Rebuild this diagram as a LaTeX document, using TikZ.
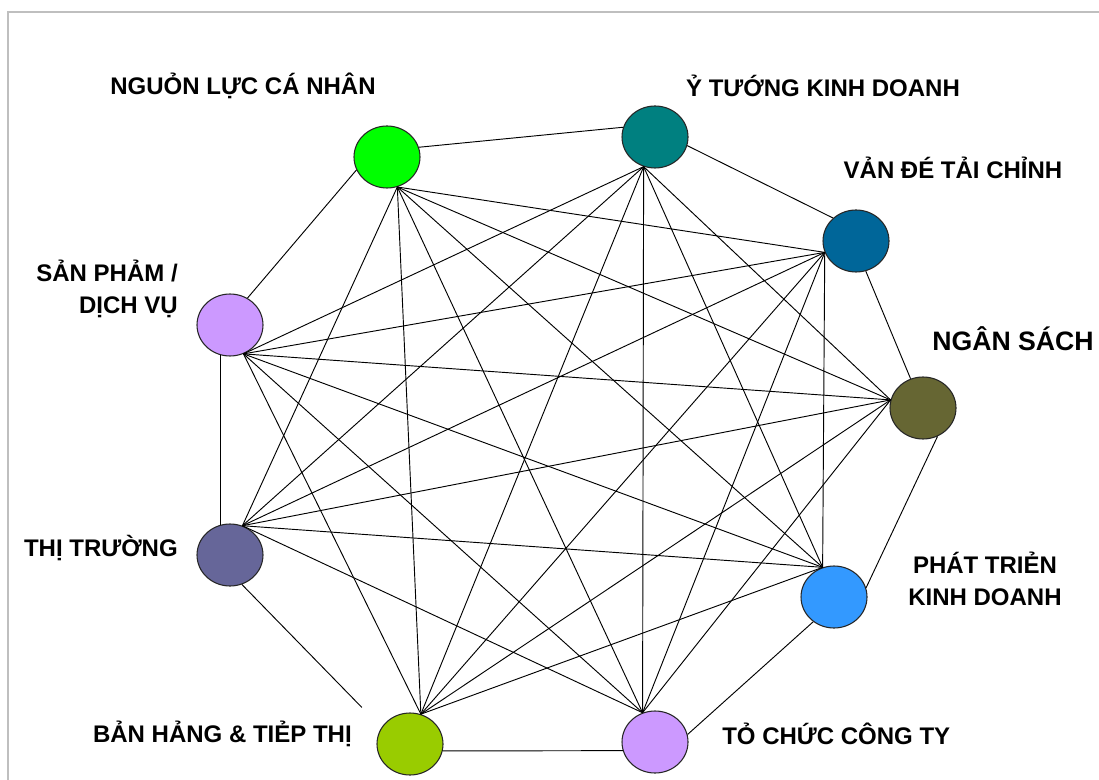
\documentclass[tikz,border=0pt]{standalone}
\usepackage{fontspec}
\usepackage{tikz}
\usetikzlibrary{shapes.geometric}
\setmainfont{Liberation Sans}

\definecolor{cNL}{HTML}{00FF00}
\definecolor{cYT}{HTML}{008080}
\definecolor{cVD}{HTML}{006699}
\definecolor{cNS}{HTML}{666633}
\definecolor{cPT}{HTML}{3399FF}
\definecolor{cTC}{HTML}{CC99FF}
\definecolor{cBH}{HTML}{99CC00}
\definecolor{cTT}{HTML}{666699}

\tikzset{
	ball/.style={ellipse, draw=black!85, line width=0.8pt, minimum width=49.5pt, minimum height=46.5pt, inner sep=0pt},
	lbl/.style={font=\bfseries\fontsize{18}{21}\selectfont, inner sep=0pt},
	link/.style={line width=0.7pt, black}
}

\begin{document}
\begin{tikzpicture}[x=0.75pt,y=-0.75pt]
			\useasboundingbox (0,0) rectangle (1099,780);
			\draw[black!25, line width=1pt] (1099,12) -- (8,12) -- (8,780);

			% the nine circles
			\node[ball, fill=cNL] (NL) at (387,157) {};
			\node[ball, fill=cYT] (YT) at (655,137) {};
			\node[ball, fill=cVD] (VD) at (856,241) {};
			\node[ball, fill=cNS] (NS) at (923,408) {};
			\node[ball, fill=cPT] (PT) at (834,597) {};
			\node[ball, fill=cTC] (TC) at (655,742) {};
			\node[ball, fill=cBH] (BH) at (410,744) {};
			\node[ball, fill=cTT] (TT) at (230,555) {};
			\node[ball, fill=cTC] (SP) at (230,325) {};

			% labels
			\node[lbl] (NLl) at (243,86) {NGUỎN LỰC CÁ NHÂN};
			\node[lbl] (YTl) at (823,86) {Ỷ TƯỚNG KINH DOANH};
			\node[lbl] (VDl) at (953,168) {VẢN ĐÉ TẢI CHỈNH};
			\node[lbl, font=\bfseries\fontsize{20}{24}\selectfont] (NSl) at (1013,339) {NGÂN SÁCH};
			\node[lbl, anchor=east, align=right] (SPl) at (178,289) {SẢN PHẢM /\\[3pt]DỊCH VỤ};
			\node[lbl, anchor=east] (TTl) at (178,548) {THỊ TRƯỜNG};
			\node[lbl, align=center] (PTl) at (985,579) {PHÁT TRIẺN\\[3pt]KINH DOANH};
			\node[lbl, anchor=east] (BHl) at (352,734) {BẢN HẢNG \& TIẺP THỊ};
			\node[lbl, anchor=west] (TCl) at (722,734) {TỎ CHỨC CÔNG TY};

			% meeting points of the inner lines
			\coordinate (NLh) at (NL.-71);
			\coordinate (YTh) at (YT.-111);
			\coordinate (VDh) at (VD.200);
			\coordinate (NSh) at (NS.166);
			\coordinate (PTh) at (PT.111);
			\coordinate (TCh) at (TC.113);
			\coordinate (BHh) at (BH.70);
			\coordinate (TTh) at (TT.67);
			\coordinate (SPh) at (SP.-65);

			\foreach \a/\b in {NLh/VDh,NLh/NSh,NLh/PTh,NLh/TCh,NLh/BHh,NLh/TTh,
				YTh/NSh,YTh/PTh,YTh/TCh,YTh/BHh,YTh/TTh,YTh/SPh,
				VDh/PTh,VDh/TCh,VDh/BHh,VDh/TTh,VDh/SPh,
				NSh/TCh,NSh/BHh,NSh/TTh,NSh/SPh,
				PTh/BHh,PTh/TTh,PTh/SPh,
				TCh/TTh,TCh/SPh,
				BHh/SPh}
			{
				\draw[link] (\a) -- (\b);
			}

			% outer ring
			\draw[link] (NL.17) -- (YT.163);
			\draw[link] (YT.-15) -- (VD.135);
			\draw[link] (VD.-72) -- (NS.113);
			\draw[link] (NS.-63) -- (PT.16);
			\draw[link] (PT.-130) -- (TC.13);
			\draw[link] (TC.-165) -- (BH.-12);
			\draw[link, shorten >=21pt] (TT.-68) -- (BH.150);
			\draw[link] (TT.108) -- (SP.-108);
			\draw[link] (SP.57) -- (NL.203);
\end{tikzpicture}
\end{document}
